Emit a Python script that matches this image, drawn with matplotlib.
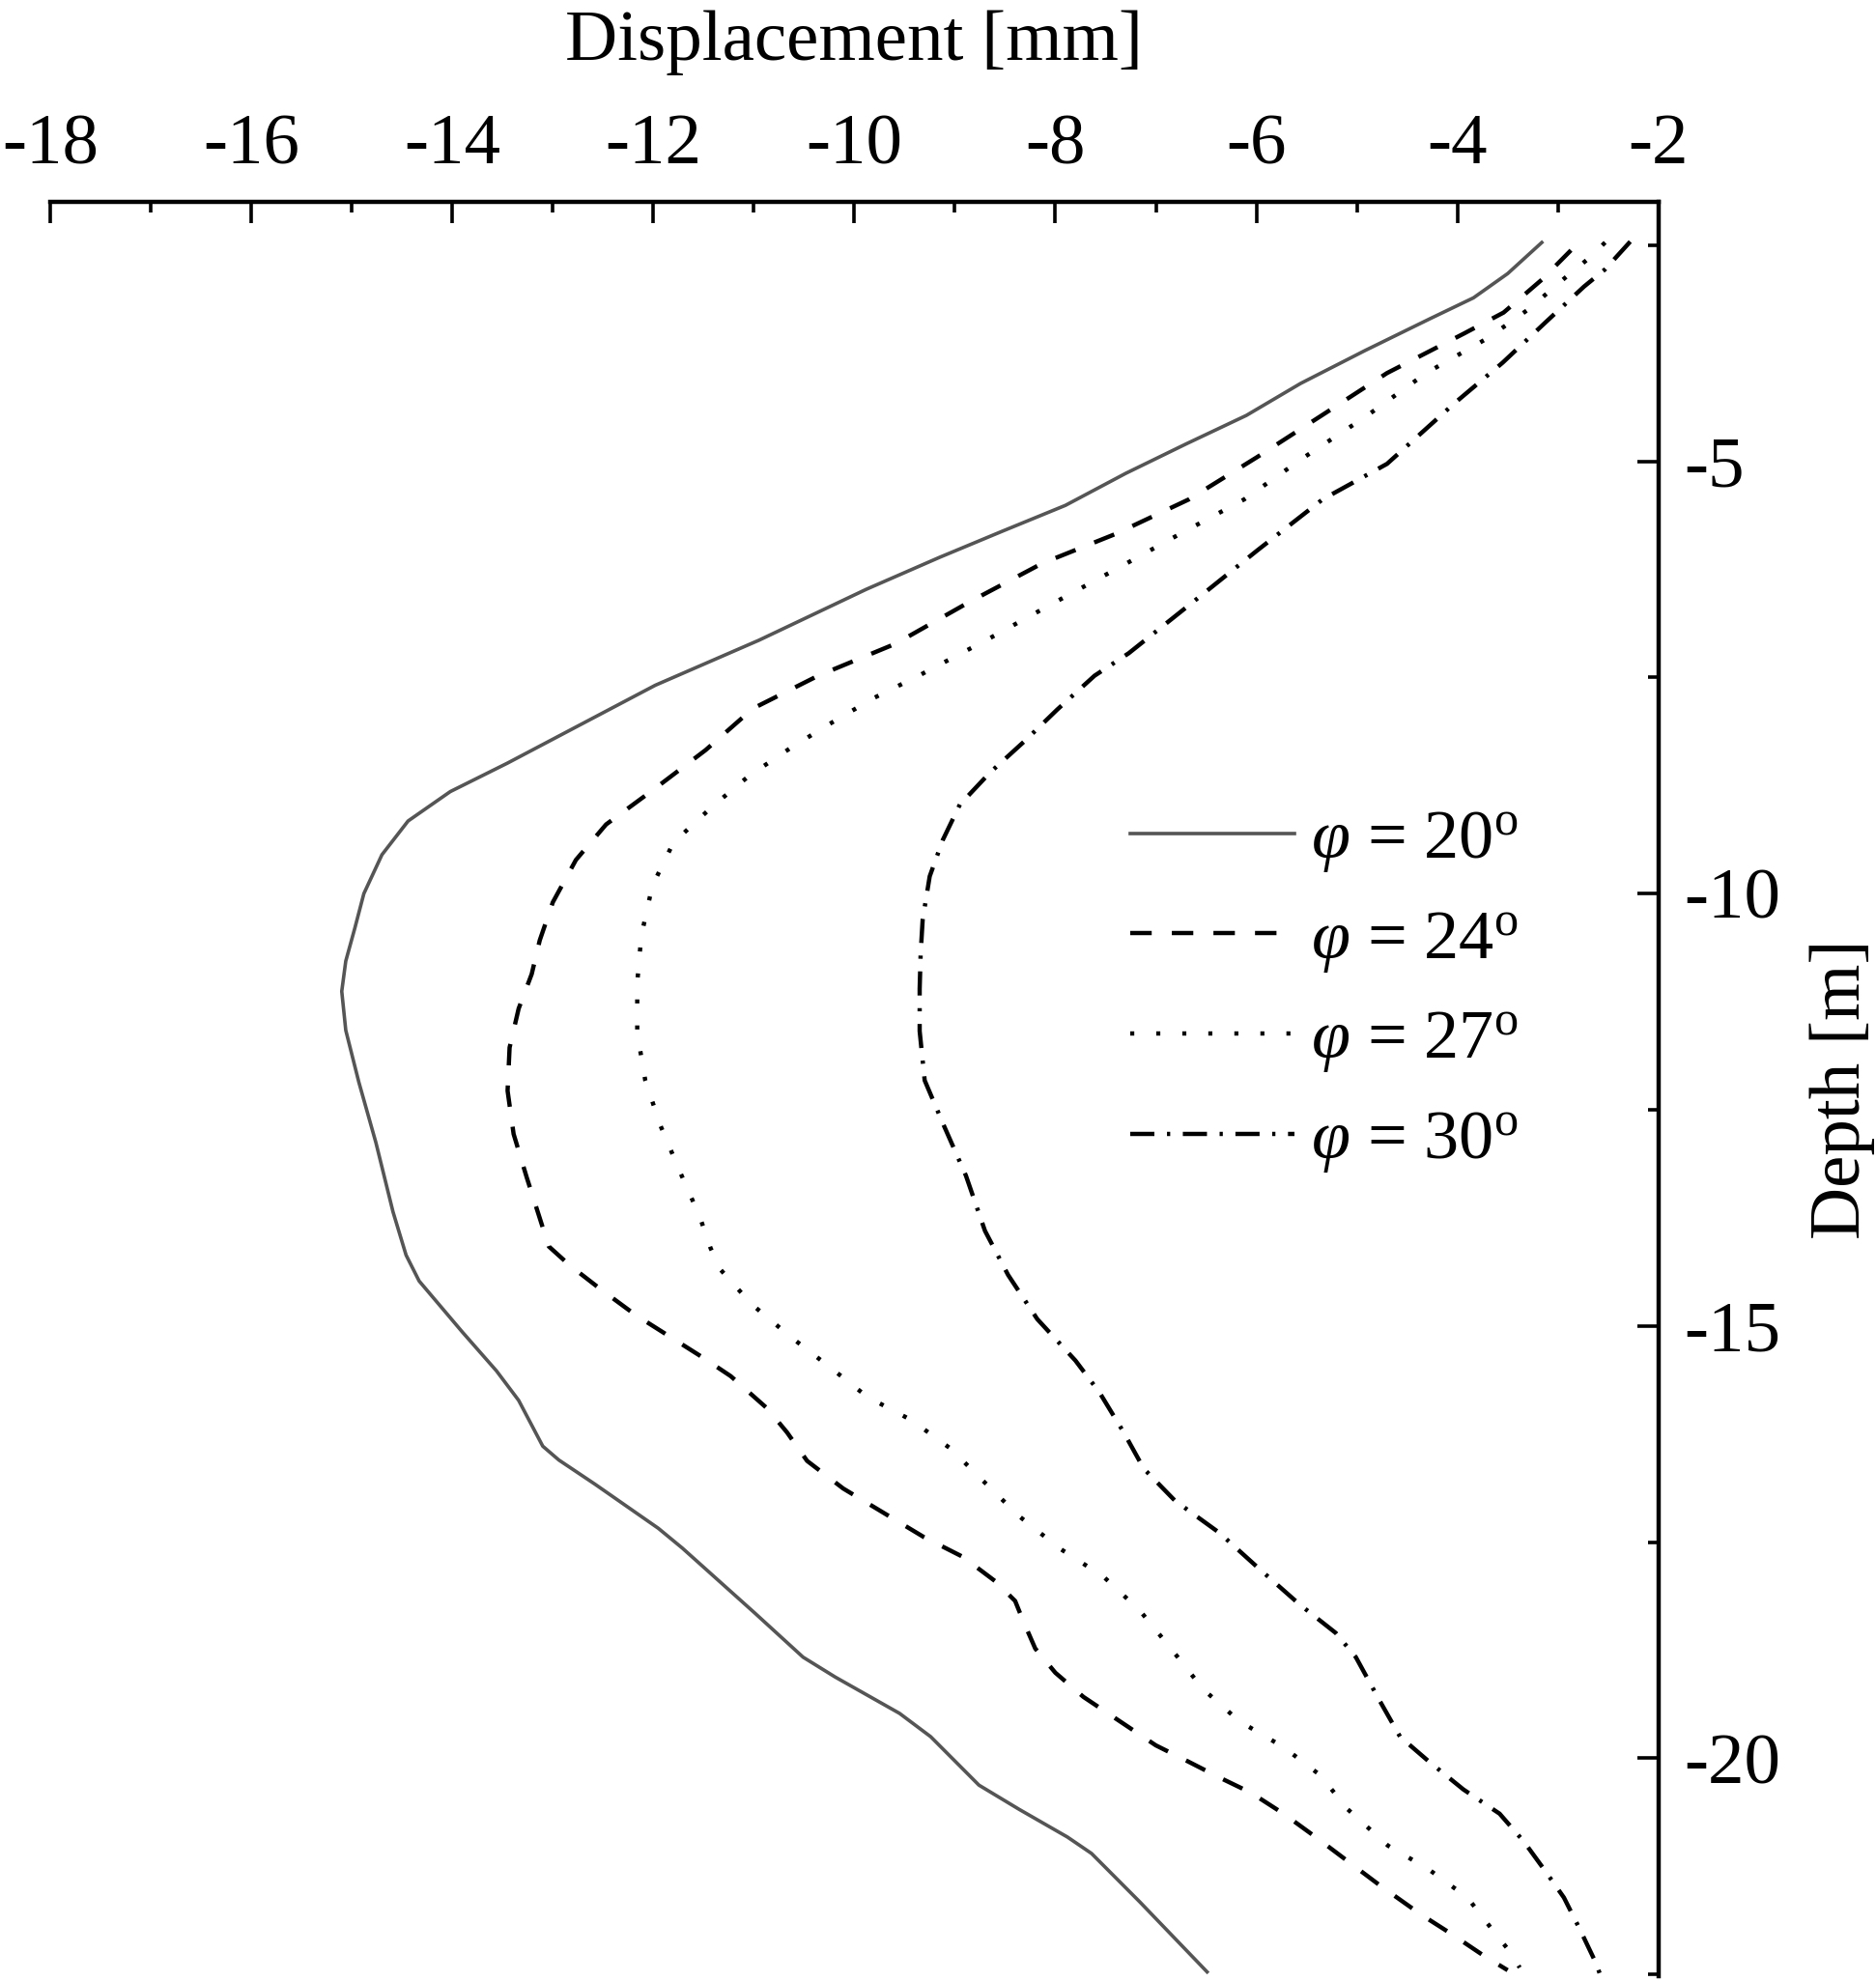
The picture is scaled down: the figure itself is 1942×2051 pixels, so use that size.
import numpy as np
import matplotlib.pyplot as plt
from matplotlib.ticker import MultipleLocator

plt.rcParams['font.family'] = ['Liberation Serif', 'DejaVu Serif']
plt.rcParams['mathtext.fontset'] = 'custom'
plt.rcParams['mathtext.rm'] = 'Liberation Serif'
plt.rcParams['mathtext.it'] = 'Liberation Serif:italic'
plt.rcParams['axes.unicode_minus'] = False
plt.rcParams['lines.scale_dashes'] = False

# phi = 20 deg
disp_20 = [-3.16, -3.50, -3.84, -4.27, -4.92, -5.56, -6.10, -6.70, -7.30, -7.90,
           -8.53, -9.15, -9.88, -10.95, -11.98, -12.65, -13.45, -14.02, -14.44, -14.70,
           -14.88, -14.97, -15.06, -15.10, -15.06, -14.93, -14.76, -14.59, -14.46, -14.33,
           -13.90, -13.56, -13.34, -13.10, -12.94, -12.58, -11.95, -11.71, -10.99, -10.51,
           -10.19, -9.55, -9.24, -8.76, -8.36, -7.88, -7.64, -7.16, -6.49]
depth_20 = [-2.47, -2.83, -3.11, -3.35, -3.72, -4.10, -4.47, -4.80, -5.14, -5.51,
            -5.81, -6.11, -6.48, -7.07, -7.59, -8.00, -8.49, -8.82, -9.16, -9.55,
            -10.0, -10.4, -10.78, -11.13, -11.58, -12.18, -12.88, -13.68, -14.18, -14.48,
            -15.07, -15.52, -15.86, -16.39, -16.55, -16.83, -17.34, -17.57, -18.32, -18.83,
            -19.06, -19.48, -19.75, -20.31, -20.59, -20.91, -21.10, -21.66, -22.47]

# phi = 24 deg
disp_24 = [-2.87, -3.16, -3.54, -3.93, -4.70, -5.35, -5.99, -6.67, -7.40, -8.13,
           -8.86, -9.59, -10.36, -11.01, -11.48, -11.99, -12.47, -12.77, -13.00, -13.13,
           -13.21, -13.34, -13.43, -13.45, -13.39, -13.26, -13.15, -13.04, -12.83, -12.53,
           -12.18, -11.84, -11.50, -11.23, -10.87, -10.67, -10.47, -10.11, -9.71, -9.31,
           -8.92, -8.60, -8.40, -8.32, -8.20, -8.00, -7.72, -7.36, -7.00, -6.69,
           -6.37, -6.05, -5.73, -5.41, -5.09, -4.77, -4.37, -4.06, -3.74, -3.50]
depth_24 = [-2.56, -2.90, -3.28, -3.52, -3.98, -4.47, -4.95, -5.44, -5.84, -6.18,
            -6.63, -7.11, -7.48, -7.86, -8.34, -8.79, -9.20, -9.61, -10.1, -10.54,
            -10.93, -11.33, -11.78, -12.28, -12.78, -13.28, -13.68, -14.08, -14.30, -14.57,
            -14.87, -15.12, -15.37, -15.58, -15.95, -16.23, -16.56, -16.88, -17.16, -17.44,
            -17.67, -17.95, -18.18, -18.41, -18.73, -19.01, -19.29, -19.57, -19.85, -20.03,
            -20.22, -20.40, -20.64, -20.91, -21.19, -21.47, -21.80, -22.03, -22.28, -22.45]

# phi = 27 deg
disp_27 = [-2.53, -2.70, -2.90, -3.29, -3.69, -4.31, -4.92, -5.52, -6.12, -6.76,
           -7.40, -8.05, -8.69, -9.36, -9.81, -10.25, -10.64, -11.05, -11.41, -11.80,
           -12.01, -12.12, -12.16, -12.16, -12.08, -11.93, -11.73, -11.54, -11.43, -11.33,
           -11.02, -10.64, -10.25, -9.87, -9.43, -9.04, -8.72, -8.36, -7.96, -7.52,
           -7.16, -6.85, -6.53, -6.17, -5.73, -5.37, -5.09, -4.69, -4.29, -3.90,
           -3.62, -3.46, -3.38]
depth_27 = [-2.47, -2.66, -2.85, -3.24, -3.57, -3.98, -4.49, -4.95, -5.44, -5.84,
            -6.25, -6.66, -7.07, -7.48, -7.74, -8.04, -8.32, -8.64, -8.99, -9.41,
            -9.91, -10.49, -11.03, -11.61, -12.16, -12.68, -13.23, -13.73, -14.10, -14.35,
            -14.75, -15.12, -15.47, -15.82, -16.09, -16.42, -16.79, -17.20, -17.57, -17.90,
            -18.29, -18.73, -19.20, -19.57, -19.87, -20.19, -20.59, -21.01, -21.28, -21.61,
            -22.03, -22.26, -22.42]

# phi = 30 deg
disp_30 = [-2.28, -2.53, -2.74, -3.12, -3.55, -4.03, -4.70, -5.34, -5.99, -6.59,
           -7.27, -7.61, -7.98, -8.30, -8.65, -8.95, -9.12, -9.25, -9.32, -9.34,
           -9.35, -9.35, -9.30, -9.11, -8.89, -8.70, -8.47, -8.18, -7.80, -7.56,
           -7.32, -7.12, -6.81, -6.37, -5.97, -5.57, -5.21, -5.01, -4.77, -4.57,
           -4.29, -3.94, -3.58, -3.34, -3.14, -2.94, -2.78, -2.62, -2.58]
depth_30 = [-2.46, -2.78, -2.98, -3.39, -3.86, -4.33, -5.03, -5.44, -6.03, -6.59,
            -7.22, -7.48, -7.87, -8.23, -8.60, -8.97, -9.38, -9.80, -10.3, -10.69,
            -11.1, -11.59, -12.16, -12.68, -13.26, -13.90, -14.41, -14.92, -15.40, -15.77,
            -16.23, -16.65, -17.02, -17.39, -17.81, -18.22, -18.55, -18.83, -19.34, -19.75,
            -20.03, -20.36, -20.64, -20.96, -21.28, -21.61, -21.98, -22.37, -22.50]

labels = [r'$\varphi$ = 20$^{\mathrm{o}}$', r'$\varphi$ = 24$^{\mathrm{o}}$',
          r'$\varphi$ = 27$^{\mathrm{o}}$', r'$\varphi$ = 30$^{\mathrm{o}}$']

fig = plt.figure(figsize=(19.42, 20.51), dpi=100)
ax = fig.add_axes([0.0268, 0.0024, 0.8572, 0.8957])

ax.plot(disp_20, depth_20, color='#555555', lw=2.6, label=labels[0])
ax.plot(disp_24, depth_24, color='black', lw=3.2, ls=(0, (16, 15)), label=labels[1])
ax.plot(disp_27, depth_27, color='black', lw=3.2, ls=(0, (3, 16.4)), label=labels[2])
ax.plot(disp_30, depth_30, color='black', lw=3.2, ls=(0, (18, 9.4, 2.4, 9.4)), label=labels[3])

ax.set_xlim(-18, -2)
ax.set_ylim(-22.52, -2)

ax.spines['left'].set_visible(False)
ax.spines['bottom'].set_visible(False)
ax.spines['top'].set_linewidth(3.2)
ax.spines['right'].set_linewidth(3.2)

ax.xaxis.tick_top()
ax.xaxis.set_label_position('top')
ax.yaxis.tick_right()
ax.yaxis.set_label_position('right')

ax.xaxis.set_major_locator(MultipleLocator(2))
ax.xaxis.set_minor_locator(MultipleLocator(1))
ax.yaxis.set_major_locator(MultipleLocator(5))
ax.yaxis.set_minor_locator(MultipleLocator(2.5))
ax.set_yticks([-5, -10, -15, -20])

ax.tick_params(which='major', direction='in', length=16, width=2.6, labelsize=54)
ax.tick_params(which='minor', direction='in', length=8, width=2.6)
ax.tick_params(axis='x', which='major', pad=17)
ax.tick_params(axis='y', which='major', pad=19)

ax.set_xlabel('Displacement [mm]', fontsize=54, labelpad=40)
ax.set_ylabel('Depth [m]', fontsize=54, labelpad=22)

ax.legend(loc='upper left', bbox_to_anchor=(0.6025, 0.5917), bbox_transform=fig.transFigure,
          frameon=False, fontsize=52, handlelength=2.35, handletextpad=0.24,
          labelspacing=0.5, borderpad=0, borderaxespad=0)

fig.savefig('out.png', dpi=100)
